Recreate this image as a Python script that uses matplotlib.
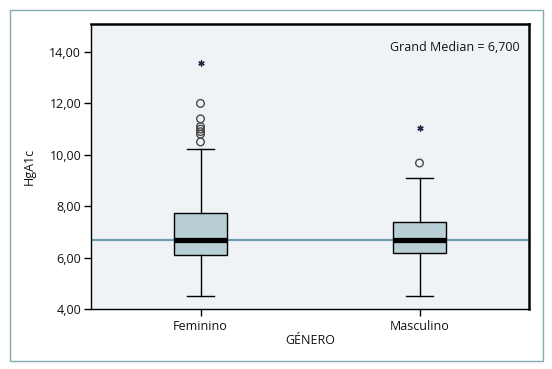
import matplotlib
matplotlib.use("Agg")
import matplotlib.pyplot as plt
from matplotlib.patches import Rectangle
from matplotlib.ticker import FuncFormatter

categories = ["Feminino", "Masculino"]
whisker_low = [4.5, 4.5]
q1 = [6.10, 6.17]
median = [6.70, 6.70]
q3 = [7.72, 7.37]
whisker_high = [10.21, 9.09]
outliers = [[10.5, 10.8, 10.9, 11.0, 11.1, 11.4, 12.0], [9.68]]
extremes = [[13.58], [11.05]]
grand_median = 6.70
y_ticks = [4, 6, 8, 10, 12, 14]

plt.rcParams['font.family'] = ['Open Sans', 'DejaVu Sans']
txt = '#111118'

fig = plt.figure(figsize=(5.52, 3.69), dpi=100)
fig.patch.set_facecolor('white')
fig.add_artist(Rectangle((9.5/552, 1-361/369), (543-9.5)/552, (361-9.5)/369,
                         transform=fig.transFigure, fill=False,
                         edgecolor='#86a9b2', lw=1.0))
ax = fig.add_axes([91/552, 1-309/369, 438/552, 285/369])
ax.set_facecolor('#eff3f6')

stats = []
for i, c in enumerate(categories):
    stats.append(dict(label=c, whislo=whisker_low[i], q1=q1[i], med=median[i],
                      q3=q3[i], whishi=whisker_high[i], fliers=[]))

ax.axhline(grand_median, color='#6d9ead', lw=1.6, zorder=1)
ax.bxp(stats, positions=range(len(categories)), widths=0.245, patch_artist=True,
       showfliers=False,
       boxprops=dict(facecolor='#b8cfd6', edgecolor='black', lw=1.0),
       medianprops=dict(color='black', lw=3.8, solid_capstyle='butt'),
       whiskerprops=dict(color='black', lw=1.0),
       capprops=dict(color='black', lw=1.0),
       capwidths=0.125, zorder=3)

for i in range(len(categories)):
    ax.scatter([i]*len(outliers[i]), outliers[i], s=30, facecolors='none',
               edgecolors='#4a4a4a', linewidths=1.0, zorder=4)
    ax.scatter([i]*len(extremes[i]), extremes[i], s=14, marker=(6, 2, 0),
               color='#2a1f40', linewidths=1.0, zorder=4)

ax.set_xlim(-0.5, 1.5)
ax.set_ylim(4, 15.09)
ax.set_yticks(y_ticks)
ax.yaxis.set_major_formatter(FuncFormatter(lambda v, p: f"{v:.2f}".replace('.', ',')))
ax.set_xticks(range(len(categories)))
ax.set_xticklabels(categories)
ax.tick_params(axis='both', direction='out', length=5, width=1.0, colors='black',
               labelcolor=txt, labelsize=9)
ax.tick_params(axis='x', pad=3)
ax.tick_params(axis='y', pad=2)
for s in ['left', 'bottom']:
    ax.spines[s].set_linewidth(1.0)
for s in ['top', 'right']:
    ax.spines[s].set_linewidth(1.8)
ax.set_ylabel('HgA1c', fontsize=9, color=txt, labelpad=10)
ax.set_xlabel('GÉNERO', fontsize=9, color=txt, labelpad=1)
ax.text(0.979, 0.919, 'Grand Median = 6,700', transform=ax.transAxes,
        ha='right', va='center', fontsize=9, color=txt)

fig.savefig('out.png', dpi=100)
